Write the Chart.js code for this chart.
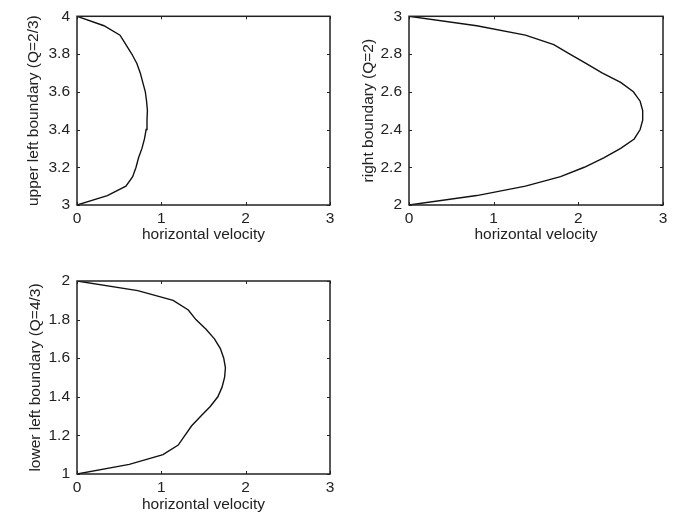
<!DOCTYPE html>
<html>
<head>
<meta charset="utf-8">
<script src="https://cdn.jsdelivr.net/npm/chart.js@4.4.1/dist/chart.umd.min.js"></script>
<style>
  html, body { margin: 0; padding: 0; background: #fff; }
  body { width: 678px; height: 515px; position: relative; overflow: hidden; }
  .panel { position: absolute; }
</style>
</head>
<body>
<div class="panel" id="p1" style="left:0;top:0;width:340px;height:250px"><canvas id="c1"></canvas></div>
<div class="panel" id="p2" style="left:340px;top:0;width:338px;height:250px"><canvas id="c2"></canvas></div>
<div class="panel" id="p3" style="left:0;top:250px;width:340px;height:265px"><canvas id="c3"></canvas></div>
<script>
// x axis shared by all three panels
const velTicks = [0, 1, 2, 3];

// upper left boundary (Q=2/3)
const posUL = [3, 3.05, 3.1, 3.15, 3.2, 3.25, 3.3, 3.35, 3.4, 3.45, 3.5, 3.55, 3.6, 3.65, 3.7, 3.75, 3.8, 3.85, 3.9, 3.95, 4];
const velUL = [0, 0.36, 0.58, 0.66, 0.70, 0.73, 0.77, 0.80, 0.82, 0.83, 0.835, 0.825, 0.81, 0.78, 0.75, 0.71, 0.65, 0.58, 0.51, 0.32, 0];
const yTicksUL = [3, 3.2, 3.4, 3.6, 3.8, 4];

// right boundary (Q=2)
const posR = [2, 2.05, 2.1, 2.15, 2.2, 2.25, 2.3, 2.35, 2.4, 2.45, 2.5, 2.55, 2.6, 2.65, 2.7, 2.75, 2.8, 2.85, 2.9, 2.95, 3];
const velR = [0, 0.80, 1.375, 1.79, 2.07, 2.30, 2.50, 2.66, 2.73, 2.76, 2.76, 2.73, 2.65, 2.50, 2.28, 2.09, 1.90, 1.71, 1.375, 0.80, 0];
const yTicksR = [2, 2.2, 2.4, 2.6, 2.8, 3];

// lower left boundary (Q=4/3)
const posLL = [1, 1.05, 1.1, 1.15, 1.2, 1.25, 1.3, 1.35, 1.4, 1.45, 1.5, 1.55, 1.6, 1.65, 1.7, 1.75, 1.8, 1.85, 1.9, 1.95, 2];
const velLL = [0, 0.62, 1.02, 1.20, 1.28, 1.36, 1.47, 1.58, 1.67, 1.72, 1.75, 1.76, 1.74, 1.70, 1.63, 1.53, 1.41, 1.32, 1.14, 0.72, 0];
const yTicksLL = [1, 1.2, 1.4, 1.6, 1.8, 2];

Chart.defaults.font.family = "'Liberation Sans', Arial, Helvetica, sans-serif";
Chart.defaults.font.size = 15.5;
Chart.defaults.color = "#222";

// matlab-like box with inward ticks on all four sides
const boxPlugin = {
  id: "box",
  afterDraw(chart) {
    const { ctx, chartArea: a } = chart;
    const xs = chart.scales.x, ys = chart.scales.y;
    const tl = 3;
    ctx.save();
    ctx.strokeStyle = "#222";
    ctx.lineWidth = 1;
    xs.ticks.forEach(t => {
      const px = Math.round(xs.getPixelForValue(t.value)) + 0.5;
      ctx.beginPath();
      ctx.moveTo(px, a.bottom); ctx.lineTo(px, a.bottom - tl);
      ctx.moveTo(px, a.top); ctx.lineTo(px, a.top + tl);
      ctx.stroke();
    });
    ys.ticks.forEach(t => {
      const py = Math.round(ys.getPixelForValue(t.value)) + 0.5;
      ctx.beginPath();
      ctx.moveTo(a.left, py); ctx.lineTo(a.left + tl, py);
      ctx.moveTo(a.right, py); ctx.lineTo(a.right - tl, py);
      ctx.stroke();
    });
    ctx.lineWidth = 1.5;
    ctx.strokeRect(a.left, a.top, a.right - a.left, a.bottom - a.top);
    ctx.restore();
  }
};

function makePanel(id, vel, pos, yTicks, yTitle, o) {
  const pts = vel.map((v, i) => ({ x: v, y: pos[i] }));
  return new Chart(document.getElementById(id), {
    type: "scatter",
    data: {
      datasets: [{
        data: pts,
        showLine: true,
        borderColor: "#111",
        borderWidth: 1.4,
        pointRadius: 0,
        tension: 0
      }]
    },
    options: {
      responsive: true,
      maintainAspectRatio: false,
      animation: false,
      layout: { padding: { top: o.top, right: o.right, left: 0, bottom: 0 } },
      plugins: { legend: { display: false }, tooltip: { enabled: false } },
      scales: {
        x: {
          type: "linear",
          min: velTicks[0],
          max: velTicks[velTicks.length - 1],
          afterBuildTicks: s => { s.ticks = velTicks.map(v => ({ value: v })); },
          afterFit: s => { s.height = o.xh; },
          grid: { display: false, drawTicks: false },
          border: { display: false },
          ticks: { padding: 4, maxRotation: 0, callback: v => String(v) },
          title: { display: true, text: "horizontal velocity", padding: { top: 0, bottom: o.xtp } }
        },
        y: {
          type: "linear",
          min: yTicks[0],
          max: yTicks[yTicks.length - 1],
          afterBuildTicks: s => { s.ticks = yTicks.map(v => ({ value: v })); },
          afterFit: s => { s.width = o.yw; },
          grid: { display: false, drawTicks: false },
          border: { display: false },
          ticks: { padding: 7, callback: v => String(v) },
          title: { display: true, text: yTitle, padding: { top: o.ytp, bottom: 0 } }
        }
      }
    },
    plugins: [boxPlugin]
  });
}

makePanel("c1", velUL, posUL, yTicksUL, "upper left boundary (Q=2/3)", { top: 13, right: 10, xh: 45, yw: 77, xtp: 6, ytp: 24 });
makePanel("c2", velR, posR, yTicksR, "right boundary (Q=2)", { top: 13, right: 15, xh: 45, yw: 69, xtp: 6, ytp: 19 });
makePanel("c3", velLL, posLL, yTicksLL, "lower left boundary (Q=4/3)", { top: 31, right: 10, xh: 41, yw: 77, xtp: 1, ytp: 26 });
</script>
</body>
</html>
